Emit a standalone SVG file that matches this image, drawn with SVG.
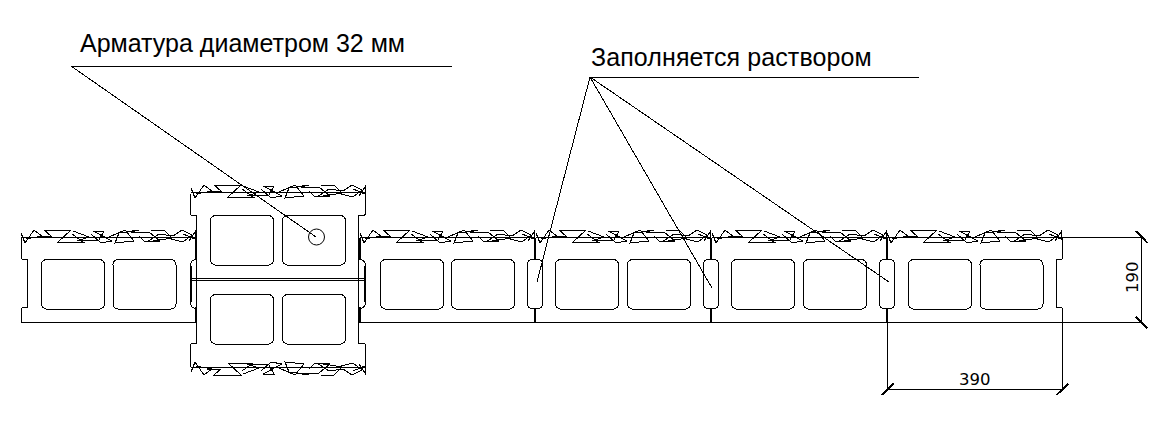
<svg xmlns="http://www.w3.org/2000/svg" width="1172" height="424" viewBox="0 0 1172 424">
<style>
.l{fill:none;stroke:#000;stroke-width:1;shape-rendering:crispEdges}
.t{fill:none;stroke:#000;stroke-width:2;shape-rendering:crispEdges}
.lab{font-family:"Liberation Sans",Arial,sans-serif;font-size:25px;fill:#000}
.dim{font-family:"DejaVu Sans",sans-serif;font-size:16.500px;fill:#000}
</style>
<defs>
<path id="hatch" class="l" d="M0,-.5H175M0,-5L4,5L13,-8L21,-2L5,1M16,-2H30L23,-8H50L37,4H62L51,-4M52,-7L68,-1L56,3L78,2L83,-7H72L91,3L80,5L70,-4M88,-1L104,-8L113,3L94,5L98,-5L118,-8L110,-6H128L139,3L124,4L118,-2M130,-8H143L151,0L126,4L138,-4L152,-2L161,-8L171,-3L162,4L150,1M162,-4L174,1V-6L168,3"/>
<rect id="cell" class="l" width="63" height="49.500" rx="5"/>
<path id="slot" class="l" d="M5,0H10Q15,0 15,5V44Q15,49 10,49H5Q0,49 0,44V5Q0,0 5,0Z"/>
</defs>
<rect width="1172" height="424" fill="#fff"/>
<g id="block-1">
<path class="l" d="M196.500,322.500H21.500V309Q21.500,307.500 24,307.500H27.500V259.500H24Q21.500,259.500 21.500,258V238"/>
<use href="#hatch" x="21" y="238"/>
<use href="#cell" x="41.500" y="259.500"/>
<use href="#cell" x="113" y="259.500"/>
</g>
<g id="column">
<path class="l" d="M190.500,193.500V213Q190.500,215.500 193,215.500H196.500V343.500H193Q190.500,343.500 190.500,345V366.500M365.500,193.500V213Q365.500,215.500 363,215.500H358.500V343.500H363Q365.500,343.500 365.500,345V366.500"/>
<path class="l" d="M196.500,259.500Q190.500,259.500 190.500,266V302Q190.500,308.500 196.500,308.500M358.500,259.500Q365.500,259.500 365.500,266V302Q365.500,308.500 358.500,308.500"/>
<path class="l" d="M190,278.500H366M190,280.500H366"/>
<path class="t" d="M195.500,238V260M195.500,307V322M191,266V302M359.500,238V260M359.500,307V322M365,266V302"/>
<use href="#hatch" x="191" y="193"/>
<g transform="translate(191,367) scale(1,-1)"><use href="#hatch"/></g>
<use href="#cell" x="210.500" y="215.500"/>
<use href="#cell" x="282.500" y="215.500"/>
<use href="#cell" x="210.500" y="294.500"/>
<use href="#cell" x="282.500" y="294.500"/>
<circle class="l" cx="316.500" cy="237" r="8" style="shape-rendering:auto"/>
</g>
<g id="block-2">
<path class="l" d="M359,322.500H535"/>
<use href="#hatch" x="360" y="238"/>
<use href="#cell" x="380.500" y="259.500"/>
<use href="#cell" x="451.500" y="259.500"/>
</g>
<g id="slot-1">
<use href="#slot" x="527.500" y="259.500"/>
<path class="t" d="M535,238V259M535,308V322"/>
</g>
<g id="block-3">
<path class="l" d="M535,322.500H711"/>
<use href="#hatch" x="536" y="238"/>
<use href="#cell" x="555.500" y="259.500"/>
<use href="#cell" x="627.500" y="259.500"/>
</g>
<g id="slot-2">
<use href="#slot" x="703.500" y="259.500"/>
<path class="t" d="M711,238V259M711,308V322"/>
</g>
<g id="block-4">
<path class="l" d="M711,322.500H887"/>
<use href="#hatch" x="712" y="238"/>
<use href="#cell" x="731.500" y="259.500"/>
<use href="#cell" x="803.500" y="259.500"/>
</g>
<g id="slot-3">
<use href="#slot" x="879.500" y="259.500"/>
<path class="t" d="M887,238V259M887,308V322"/>
</g>
<g id="block-5">
<path class="l" d="M887,322.500H1062.500V309Q1062.500,307.500 1060,307.500H1056.500V259.500H1060Q1062.500,259.500 1062.500,258V238"/>
<use href="#hatch" x="887" y="238"/>
<use href="#cell" x="908.500" y="259.500"/>
<use href="#cell" x="980" y="259.500"/>
</g>
<g id="connectors">
<path class="l" d="M71,66.500H452M71,66L316,237"/>
<path class="l" d="M590,77.500H919M590,77L537,282M590,77L712,288M590,77L889,282"/>
<path class="l" d="M1062,237.500H1142M1062,322.500H1142M1141.500,237V322M887.500,322V389M1062.500,322V389M887,389.500H1062"/>
<path class="t" d="M881.500,395L894,383.500M1056.500,395L1068.500,383.500M1136,231L1147.500,243M1136,317L1147.500,328.500"/>
</g>
<g id="labels">
<text class="lab" x="80" y="52">Арматура диаметром 32 мм</text>
<text class="lab" x="591" y="66" style="letter-spacing:.1px">Заполняется раствором</text>
<text class="dim" x="959" y="385">390</text>
<text class="dim" transform="translate(1138,293) rotate(-90)">190</text>
</g>
</svg>
